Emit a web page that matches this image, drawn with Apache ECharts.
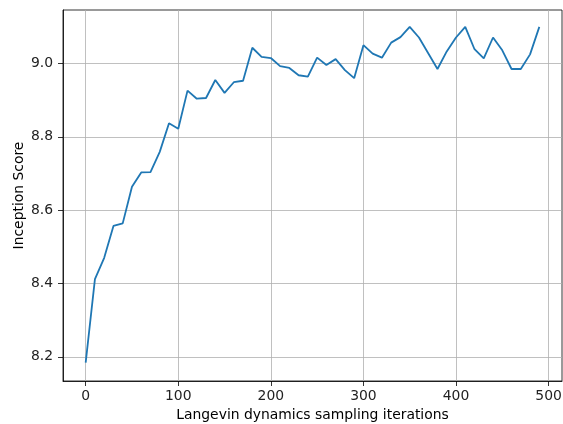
<!DOCTYPE html>
<html>
<head>
<meta charset="utf-8">
<script src="https://cdn.jsdelivr.net/npm/echarts@6/dist/echarts.min.js"></script>
<style>html,body{margin:0;padding:0;background:#fff;}#c{width:563px;height:424px;}</style>
</head>
<body>
<div id="c"></div>
<script>
const iterations = [0,10,20,30,40,50,60,70,80,90,100,110,120,130,140,150,160,170,180,190,200,210,220,230,240,250,260,270,280,290,300,310,320,330,340,350,360,370,380,390,400,410,420,430,440,450,460,470,480,490];
const scores = [8.184,8.412,8.470,8.557,8.564,8.664,8.703,8.704,8.759,8.837,8.822,8.926,8.904,8.906,8.955,8.920,8.949,8.953,9.043,9.018,9.015,8.993,8.988,8.968,8.964,9.016,8.996,9.012,8.982,8.960,9.050,9.027,9.016,9.057,9.072,9.100,9.071,9.028,8.985,9.033,9.071,9.100,9.039,9.014,9.071,9.036,8.985,8.985,9.025,9.100];
const xTicks = [0,100,200,300,400,500];
const yTicks = [8.2,8.4,8.6,8.8,9.0];
const xLabel = 'Langevin dynamics sampling iterations';
const yLabel = 'Inception Score';

const chart = echarts.init(document.getElementById('c'), null, {renderer:'canvas'});
const font = 'DejaVu Sans';
chart.setOption({
  animation:false,
  backgroundColor:'#fff',
  grid:{left:63,right:1,top:10,bottom:43,show:true,outerBoundsMode:'none',containLabel:false,borderColor:'#000',borderWidth:0.8,backgroundColor:'transparent'},
  xAxis:{
    type:'value', min:-24.5, max:514.5,
    name:xLabel, nameLocation:'middle', nameGap:27, nameMoveOverlap:false,
    nameTextStyle:{fontFamily:font,fontSize:13.9,color:'#000'},
    axisLine:{show:true,onZero:false,lineStyle:{color:'#000',width:0.8}},
    axisTick:{show:true,inside:false,length:5,customValues:xTicks,lineStyle:{color:'#000',width:0.8}},
    axisLabel:{customValues:xTicks,fontFamily:font,fontSize:13.9,color:'#222',margin:8},
    splitLine:{show:true,lineStyle:{color:'#b0b0b0',width:0.8}}
  },
  yAxis:{
    type:'value', min:8.134, max:9.146,
    name:yLabel, nameLocation:'middle', nameGap:37, nameMoveOverlap:false,
    nameTextStyle:{fontFamily:font,fontSize:13.9,color:'#000'},
    axisLine:{show:true,onZero:false,lineStyle:{color:'#000',width:0.8}},
    axisTick:{show:true,inside:false,length:5,customValues:yTicks,lineStyle:{color:'#000',width:0.8}},
    axisLabel:{customValues:yTicks,fontFamily:font,fontSize:13.9,color:'#222',margin:10,formatter:v=>Number(v).toFixed(1)},
    splitLine:{show:true,lineStyle:{color:'#b0b0b0',width:0.8}}
  },
  series:[{
    type:'line',
    data:iterations.map((x,i)=>[x,scores[i]]),
    showSymbol:false,
    lineStyle:{color:'#1f77b4',width:1.8},
    itemStyle:{color:'#1f77b4'}
  }]
});
</script>
</body>
</html>
